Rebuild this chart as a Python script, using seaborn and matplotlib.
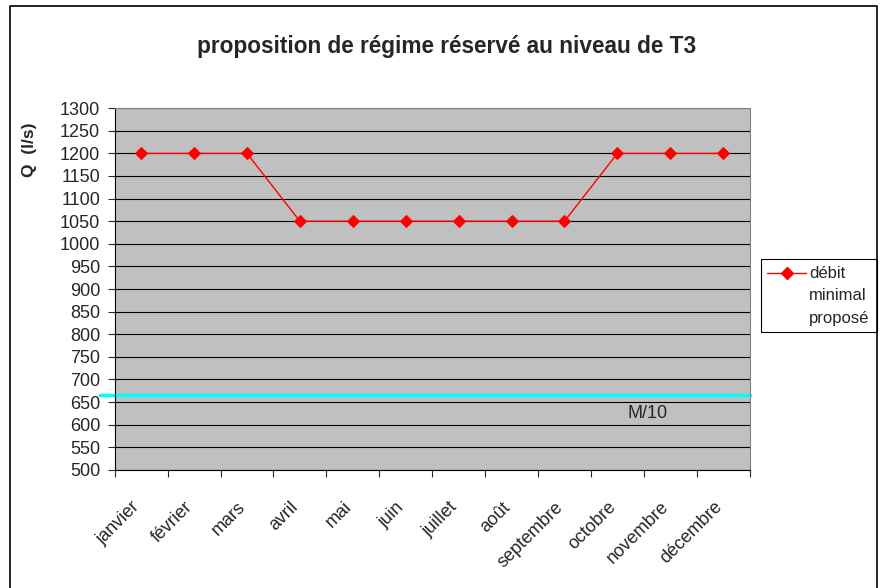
import matplotlib
matplotlib.use("Agg")
import matplotlib.pyplot as plt
import matplotlib.transforms as mtransforms
import seaborn as sns
import pandas as pd
import numpy as np
from matplotlib.lines import Line2D
from matplotlib.patches import Rectangle

# data
mois = ['janvier', 'février', 'mars', 'avril', 'mai', 'juin', 'juillet',
        'août', 'septembre', 'octobre', 'novembre', 'décembre']
debit = [1200, 1200, 1200, 1050, 1050, 1050, 1050, 1050, 1050, 1200, 1200, 1200]
m10 = 666

sns.set_style("white")
plt.rcParams['font.family'] = ['Liberation Sans', 'DejaVu Sans']

W, H = 882, 588
df = pd.DataFrame({'pos': np.arange(len(mois)), 'debit': debit})

fig = plt.figure(figsize=(W / 100, H / 100), dpi=100)
ax = fig.add_axes([0.130, 0.201, 0.720, 0.615])
ax.set_facecolor('#C0C0C0')

# horizontal grid
for v in range(500, 1301, 50):
    ax.axhline(v, color='black', lw=0.8, zorder=1)

# M/10 line, sticks out a bit left of the axis like in the original
ax.plot([-0.78, 11.5], [m10, m10], color='#00FFFF', lw=2.5, clip_on=False, zorder=2)
ax.text(9.57, 624, 'M/10', fontsize=13, ha='center', va='center', zorder=3)

sns.lineplot(data=df, x='pos', y='debit', color='red', marker='D',
             markersize=6, markeredgecolor='red', lw=1, ax=ax, zorder=4,
             legend=False)

ax.set_xlim(-0.5, 11.5)
ax.set_ylim(500, 1300)
ax.set_yticks(range(500, 1301, 50))
ax.tick_params(axis='y', labelsize=13, length=5, direction='out', left=True, width=0.8, pad=5.5)

ax.set_xticks(np.arange(len(mois)))
ax.set_xticklabels(mois, rotation=45, ha='right', va='center', rotation_mode='anchor', fontsize=13)
ax.tick_params(axis='x', which='major', length=0, pad=25)
shift = mtransforms.ScaledTranslation(-4 / 100, 0, fig.dpi_scale_trans)
for lab in ax.get_xticklabels():
    lab.set_transform(lab.get_transform() + shift)
ax.set_xticks(np.arange(-0.5, 12, 1), minor=True)
ax.tick_params(axis='x', which='minor', length=5, direction='out', bottom=True, width=0.8)
ax.set_xlabel('')
ax.set_ylabel('')

for side in ['top', 'right']:
    ax.spines[side].set_color('#808080')
for side in ['left', 'bottom']:
    ax.spines[side].set_color('black')
for s in ax.spines.values():
    s.set_linewidth(0.8)

fig.suptitle('proposition de régime réservé au niveau de T3', x=0.506, y=0.94,
             fontsize=16.3, fontweight='bold')
fig.text(0.034, 0.745, 'Q  (l/s)', rotation=90, fontsize=12.5, fontweight='bold',
         ha='center', va='center')

# legend drawn by hand so the marker sits on the first text line
def fx(px):
    return px / W

def fy(py):
    return 1 - py / H

fig.add_artist(Rectangle((fx(760.5), fy(332)), fx(876.5) - fx(760.5), fy(259) - fy(332),
                         transform=fig.transFigure, fill=False, edgecolor='black', lw=0.8))
fig.add_artist(Line2D([fx(767), fx(806)], [fy(273), fy(273)], transform=fig.transFigure,
                      color='red', lw=1))
fig.add_artist(Line2D([fx(787)], [fy(273)], transform=fig.transFigure, color='red',
                      marker='D', markersize=6))
for txt, py in zip(['débit', 'minimal', 'proposé'], [273, 296, 319]):
    fig.text(fx(809), fy(py), txt, fontsize=12, ha='left', va='center')

# outer chart border (left, top, right; the bottom runs off the picture)
fig.add_artist(Line2D([0.0119, 0.0119, 0.9943, 0.9943], [0.0, 0.9906, 0.9906, 0.0],
                      transform=fig.transFigure, color='black', lw=1.2))

fig.savefig('out.png', dpi=100)
